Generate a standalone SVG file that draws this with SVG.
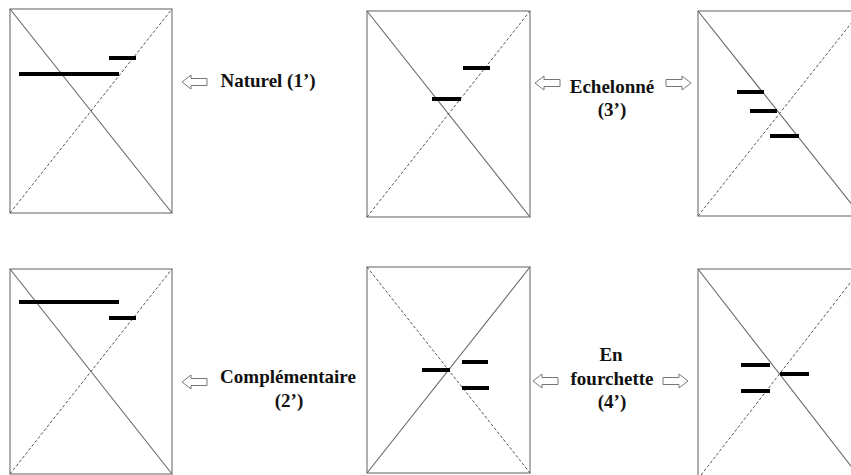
<svg xmlns="http://www.w3.org/2000/svg" width="851" height="475" viewBox="0 0 851 475">
<defs>
<style>
.box{fill:#fff;stroke:#7a7a7a;stroke-width:1.2}
.solid{stroke:#666;stroke-width:1.1;fill:none}
.dash{stroke:#555;stroke-width:1;stroke-dasharray:3,2;fill:none}
.bar{stroke:#000;stroke-width:4;fill:none}
.arr{fill:#fff;stroke:#777;stroke-width:1}
.lbl{font-family:"Liberation Serif","Times New Roman",serif;font-weight:bold;font-size:19px;fill:#111;text-anchor:middle}
</style>
<path id="la" d="M0,0 L9,-7 L9,-3.5 L25,-3.5 L25,3.5 L9,3.5 L9,7 Z"/>
<path id="ra" d="M0,0 L-9,-7 L-9,-3.5 L-25,-3.5 L-25,3.5 L-9,3.5 L-9,7 Z"/>
</defs>
<rect width="851" height="475" fill="#fff"/>

<g id="p1">
<rect class="box" x="10" y="9" width="162" height="204"/>
<line class="solid" x1="10" y1="9" x2="172" y2="213"/>
<line class="dash" x1="10" y1="213" x2="172" y2="9"/>
<line class="bar" x1="109" y1="58" x2="136" y2="58"/>
<line class="bar" x1="19" y1="74" x2="119" y2="74"/>
</g>

<g id="p2">
<rect class="box" x="367" y="11" width="163" height="206"/>
<line class="solid" x1="367" y1="11" x2="530" y2="217"/>
<line class="dash" x1="367" y1="217" x2="530" y2="11"/>
<line class="bar" x1="463" y1="68" x2="490" y2="68"/>
<line class="bar" x1="432" y1="99" x2="461" y2="99"/>
</g>

<g id="p3">
<rect class="box" x="698" y="11" width="163" height="205"/>
<line class="solid" x1="698" y1="11" x2="861" y2="216"/>
<line class="dash" x1="698" y1="216" x2="861" y2="11"/>
<line class="bar" x1="737" y1="92" x2="764" y2="92"/>
<line class="bar" x1="750" y1="111" x2="777" y2="111"/>
<line class="bar" x1="770" y1="136" x2="799" y2="136"/>
</g>

<g id="p4">
<rect class="box" x="10" y="269" width="162" height="205"/>
<line class="solid" x1="10" y1="269" x2="172" y2="474"/>
<line class="dash" x1="10" y1="474" x2="172" y2="269"/>
<line class="bar" x1="19" y1="302" x2="119" y2="302"/>
<line class="bar" x1="109" y1="318" x2="136" y2="318"/>
</g>

<g id="p5">
<rect class="box" x="367" y="267" width="163" height="206"/>
<line class="dash" x1="367" y1="267" x2="530" y2="473"/>
<line class="solid" x1="367" y1="473" x2="530" y2="267"/>
<line class="bar" x1="422" y1="370" x2="450" y2="370"/>
<line class="bar" x1="462" y1="362" x2="488" y2="362"/>
<line class="bar" x1="462" y1="388" x2="489" y2="388"/>
</g>

<g id="p6">
<rect class="box" x="698" y="269" width="163" height="210"/>
<line class="solid" x1="698" y1="269" x2="861" y2="479"/>
<line class="dash" x1="698" y1="479" x2="861" y2="269"/>
<line class="bar" x1="741" y1="365" x2="770" y2="365"/>
<line class="bar" x1="741" y1="391" x2="770" y2="391"/>
<line class="bar" x1="780" y1="374" x2="809" y2="374"/>
</g>

<g id="connectors">
<use href="#la" class="arr" transform="translate(182,82)"/>
<use href="#la" class="arr" transform="translate(535,83)"/>
<use href="#ra" class="arr" transform="translate(691,83)"/>
<use href="#la" class="arr" transform="translate(182,382)"/>
<use href="#la" class="arr" transform="translate(533,381)"/>
<use href="#ra" class="arr" transform="translate(688,381)"/>
</g>

<g id="labels">
<text class="lbl" x="268" y="87">Naturel (1’)</text>
<text class="lbl" x="612" y="93">Echelonné</text>
<text class="lbl" x="612" y="116">(3’)</text>
<text class="lbl" x="288" y="383">Complémentaire</text>
<text class="lbl" x="289" y="407">(2’)</text>
<text class="lbl" x="611" y="361">En</text>
<text class="lbl" x="612" y="385">fourchette</text>
<text class="lbl" x="612" y="408">(4’)</text>
</g>
</svg>
